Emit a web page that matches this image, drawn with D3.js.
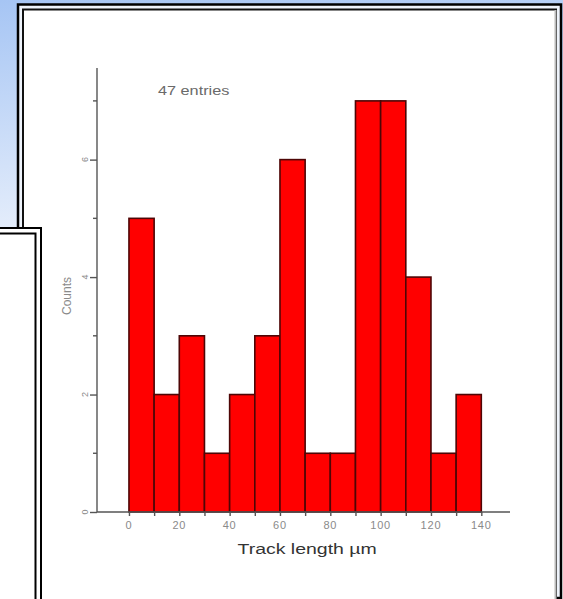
<!DOCTYPE html>
<html>
<head>
<meta charset="utf-8">
<script src="https://cdn.jsdelivr.net/npm/d3@7"></script>
<style>
  html, body { margin: 0; padding: 0; background: #fff; }
  svg { display: block; }
  text { font-family: "Liberation Sans", Arial, sans-serif; }
</style>
</head>
<body>
<svg id="chart" width="563" height="599"></svg>
<script>
// Histogram of track lengths, 10 µm bins
const binStarts = [0, 10, 20, 30, 40, 50, 60, 70, 80, 90, 100, 110, 120, 130];
const binWidth = 10;
const counts = [5, 2, 3, 1, 2, 3, 6, 1, 1, 7, 7, 4, 1, 2];
const xTickLabels = [0, 20, 40, 60, 80, 100, 120, 140];
const xMinorTicks = [0, 10, 20, 30, 40, 50, 60, 70, 80, 90, 100, 110, 120, 130, 140];
const yTickLabels = [0, 2, 4, 6];
const yMinorTicks = [1, 3, 5, 7];
const entriesLabel = "47 entries";
const xTitle = "Track length \u00B5m";
const yTitle = "Counts";

const svg = d3.select("#chart");

// Slide-style backdrop: pale blue gradient fading to white
const defs = svg.append("defs");
const grad = defs.append("linearGradient")
  .attr("id", "bg").attr("x1", 0).attr("y1", 0).attr("x2", 0.1).attr("y2", 1);
grad.append("stop").attr("offset", 0).attr("stop-color", "#a6c5f4");
grad.append("stop").attr("offset", 0.38).attr("stop-color", "#e4edfb");
grad.append("stop").attr("offset", 1).attr("stop-color", "#ffffff");
svg.append("rect").attr("width", 563).attr("height", 599).attr("fill", "url(#bg)");

// Main double-line picture frame
svg.append("rect").attr("x", 18).attr("y", 4.5).attr("width", 543).attr("height", 593.5)
  .attr("fill", "#eef3fb").attr("stroke", "#000").attr("stroke-width", 2.5);
svg.append("rect").attr("x", 23).attr("y", 9.5).attr("width", 533).attr("height", 600)
  .attr("fill", "#fff").attr("stroke", "#111").attr("stroke-width", 2);
svg.append("line").attr("x1", 555.5).attr("x2", 555.5).attr("y1", 10).attr("y2", 599)
  .attr("stroke", "#bbb").attr("stroke-width", 2);

// Overlapping inset frame on the left edge
svg.append("rect").attr("x", -10).attr("y", 228).attr("width", 51).attr("height", 400)
  .attr("fill", "#fff").attr("stroke", "#000").attr("stroke-width", 2);
svg.append("rect").attr("x", -10).attr("y", 233.5).attr("width", 45.5).attr("height", 400)
  .attr("fill", "#fff").attr("stroke", "#000").attr("stroke-width", 2);

// Scales
const x = d3.scaleLinear().domain([-12.7, 151.4]).range([97, 510]);
const y = d3.scaleLinear().domain([0, 7.56]).range([512, 68]);

const g = svg.append("g");

// Bars
g.selectAll("rect.bar")
  .data(binStarts.map((s, i) => ({ start: s, count: counts[i] })))
  .join("rect")
  .attr("class", "bar")
  .attr("x", d => x(d.start))
  .attr("width", d => x(d.start + binWidth) - x(d.start))
  .attr("y", d => y(d.count))
  .attr("height", d => y(0) - y(d.count))
  .attr("fill", "#ff0000")
  .attr("stroke", "#4e0606")
  .attr("stroke-width", 1.6);

// X axis
const xAxisG = g.append("g").attr("transform", `translate(0,${y(0)})`);
xAxisG.call(d3.axisBottom(x).tickValues(xMinorTicks).tickSize(4).tickFormat(""));
xAxisG.select(".domain").attr("d", `M${x(-12.7)},0H${x(151.4)}`);
xAxisG.selectAll("path, line").attr("stroke", "#555").attr("stroke-width", 1.4);
g.selectAll("text.xtick")
  .data(xTickLabels)
  .join("text")
  .attr("class", "xtick")
  .attr("x", d => x(d))
  .attr("y", y(0) + 17)
  .attr("text-anchor", "middle")
  .attr("font-size", 11)
  .attr("letter-spacing", 0.8)
  .attr("fill", "#8a8a8a")
  .text(d => d);

// Y axis
const yAxisG = g.append("g").attr("transform", `translate(${x(-12.7)},0)`);
yAxisG.call(d3.axisLeft(y).tickValues(yTickLabels).tickSize(7).tickFormat(""));
yAxisG.select(".domain").attr("d", `M0,${y(0)}V${y(7.56)}`);
yAxisG.selectAll("path, line").attr("stroke", "#555").attr("stroke-width", 1.4);
yAxisG.selectAll("line.minor")
  .data(yMinorTicks)
  .join("line")
  .attr("class", "minor")
  .attr("x1", -4).attr("x2", 0)
  .attr("y1", d => y(d)).attr("y2", d => y(d))
  .attr("stroke", "#555").attr("stroke-width", 1.4);
g.selectAll("text.ytick")
  .data(yTickLabels)
  .join("text")
  .attr("class", "ytick")
  .attr("transform", d => `translate(${x(-12.7) - 9},${y(d)}) rotate(-90)`)
  .attr("text-anchor", "middle")
  .attr("font-size", 9)
  .attr("fill", "#8a8a8a")
  .text(d => d);

// Axis titles and annotation
g.append("text")
  .attr("transform", `translate(71,296) rotate(-90)`)
  .attr("text-anchor", "middle")
  .attr("font-size", 12)
  .attr("fill", "#8a8a8a")
  .text(yTitle);

g.append("text")
  .attr("transform", `translate(${(x(0) + x(140)) / 2 + 2},554) scale(1.3,1)`)
  .attr("text-anchor", "middle")
  .attr("font-size", 15)
  .attr("fill", "#333")
  .text(xTitle);

g.append("text")
  .attr("transform", `translate(158,95) scale(1.25,1)`)
  .attr("font-size", 13)
  .attr("fill", "#6a6a6a")
  .text(entriesLabel);
</script>
</body>
</html>
